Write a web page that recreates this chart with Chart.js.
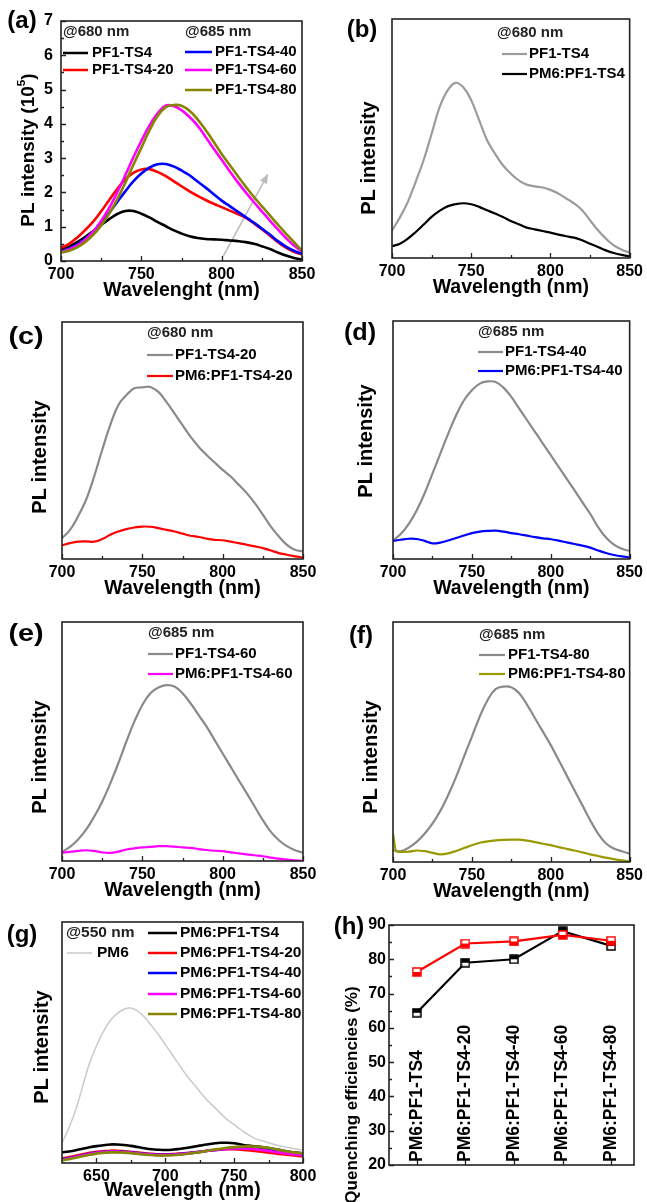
<!DOCTYPE html>
<html><head><meta charset="utf-8">
<script src="https://cdn.jsdelivr.net/npm/chart.js@4.4.1/dist/chart.umd.min.js"></script>
<style>
html,body{margin:0;padding:0;background:#fff;}
body{position:relative;width:647px;height:1202px;overflow:hidden;}
canvas{position:absolute;}
</style></head><body>
<script>
// ---------------- DATA ----------------
const wl5 = [700,705,710,715,720,725,730,735,740,745,750,755,760,765,770,775,780,785,790,795,800,805,810,815,820,825,830,835,840,845,850];
const wlF = [700,702,705,710,715,720,725,730,735,740,745,750,755,760,765,770,775,780,785,790,795,800,805,810,815,820,825,830,835,840,845,850];
const wlG = [625,630,635,640,645,650,655,660,665,670,675,680,685,690,695,700,705,710,715,720,725,730,735,740,745,750,755,760,765,770,775,780,785,790,795,800];

const neatNames  = ['PF1-TS4','PF1-TS4-20','PF1-TS4-40','PF1-TS4-60','PF1-TS4-80'];
const blendNames = ['PM6:PF1-TS4','PM6:PF1-TS4-20','PM6:PF1-TS4-40','PM6:PF1-TS4-60','PM6:PF1-TS4-80'];

// (a) PL intensity (10^5)
const aTS4   = [0.33,0.42,0.55,0.7,0.87,1.05,1.22,1.37,1.46,1.46,1.38,1.27,1.14,1.02,0.9,0.8,0.72,0.67,0.64,0.63,0.62,0.6,0.58,0.55,0.5,0.43,0.35,0.25,0.16,0.09,0.04];
const aTS4_20= [0.38,0.5,0.68,0.9,1.15,1.45,1.78,2.1,2.38,2.57,2.67,2.68,2.6,2.48,2.33,2.18,2.03,1.9,1.78,1.67,1.57,1.47,1.37,1.26,1.1,0.93,0.74,0.55,0.39,0.27,0.19];
const aTS4_40= [0.28,0.36,0.48,0.64,0.85,1.1,1.4,1.72,2.03,2.32,2.55,2.72,2.82,2.83,2.76,2.64,2.5,2.32,2.14,1.95,1.76,1.6,1.44,1.28,1.12,0.95,0.77,0.58,0.42,0.3,0.21];
const aTS4_60= [0.27,0.34,0.45,0.62,0.86,1.17,1.55,2.0,2.5,3.02,3.5,3.95,4.3,4.53,4.52,4.4,4.2,3.95,3.62,3.28,2.95,2.62,2.3,2.0,1.72,1.45,1.18,0.92,0.67,0.45,0.28];
const aTS4_80= [0.25,0.3,0.4,0.55,0.76,1.04,1.38,1.8,2.28,2.8,3.3,3.8,4.22,4.48,4.55,4.53,4.38,4.13,3.82,3.48,3.12,2.8,2.48,2.17,1.87,1.6,1.33,1.06,0.8,0.55,0.3];
const aArrowFrom = [801, 0.14];
const aArrowTo   = [829, 2.55];

// (b)-(f) arbitrary units
const bNeat  = [11.5,17,23.5,32,41,52,63,70,73.3,71.4,66,57.7,49.3,43.7,38.8,35.3,32.5,30.7,30,29.5,28.5,27,24.9,22.8,20,15.8,11.6,8.1,5.3,3.5,2.2];
const bBlend = [4.9,6,8.1,10.9,14,17.2,19.7,21.6,22.5,22.9,22.5,21.4,20,18.6,17.2,15.5,14.1,12.7,12,11.3,10.6,9.8,9.1,8.5,7.4,6,4.6,3.2,2.1,1.3,0.7];
const cNeat  = [8.8,12.3,18,25,34.8,46,56.5,64.9,69.1,72,72.4,72.6,70.5,66.3,61.4,56.5,51.6,47.4,43.9,40.7,37.6,34.8,31.3,27.8,23.6,18.7,13.7,9.5,6,3.9,3.2];
const cBlend = [5.8,6.7,7.3,7.4,7.3,8.4,10.2,11.6,12.6,13.3,13.7,13.6,13,12.3,11.6,10.7,9.8,9.3,8.6,8.1,7.9,7.3,6.7,6,5.3,4.6,3.6,2.5,1.8,1.1,0.7];
const dNeat  = [7.8,10.6,14.8,20.4,27.5,35.9,44.3,52.7,60.4,66.7,70.9,73.7,74.6,74.4,72,68.1,63.2,58.3,53.4,48.5,43.6,38.7,33.8,28.9,23.9,19,13.4,9,6,4.3,3.4];
const dBlend = [7.6,8.1,8.5,8.4,7.6,6.6,6.9,7.8,8.8,9.9,10.9,11.5,11.8,11.9,11.5,10.9,10.4,9.8,9.2,8.7,8.3,7.7,7,6.3,5.6,4.8,3.6,2.5,1.7,1.1,0.7];
const eNeat  = [3.8,5.9,9,13.1,18.5,24.8,32.4,40.8,49.9,58.3,65.3,70.2,72.6,73.6,73,70.2,66,61.1,56.2,50.6,45,39.4,33.8,28.3,22.7,17.1,12.2,8.7,6.2,4.5,3.5];
const eBlend = [3.5,3.8,4.2,4.5,4.2,3.6,3.4,3.9,4.8,5.3,5.7,5.9,6.2,6.2,6,5.7,5.5,5,4.6,4.3,4.1,3.6,3.2,2.8,2.4,2,1.4,1,0.6,0.3,0];
const fNeat  = [4.9,4.5,6,8.4,11.8,16,21.3,27.9,35.5,43.9,52.2,60.6,67.5,72,73.1,72.8,70.3,65.5,59.9,54.3,48.7,42.5,36.2,29.9,23.7,17.4,11.8,7.7,5.6,4.5,3.5];
const fBlend = [11.8,4.5,4.2,4.3,4.8,4.5,3.8,3.2,3.6,4.6,5.8,7,8,8.6,9,9.2,9.3,9.3,8.9,8.3,7.6,7,6.2,5.5,4.8,4,3.2,2.5,1.8,1.2,0.7,0.3];

// (g) excitation at 550 nm
const gPM6   = [8.3,14.5,22.1,31.8,41.5,48.5,54.5,59,62,63.8,64.3,63,60.5,57,53.3,49.1,45,40.8,36.7,33.2,29.7,26.3,23.5,20.7,18,15.9,13.8,11.8,10.2,9.2,8.4,7.6,6.9,6.3,5.8,5.4];
const gTS4   = [4.4,4.8,5.3,5.9,6.5,7.0,7.4,7.7,7.7,7.5,7.1,6.6,6.1,5.7,5.5,5.4,5.5,5.8,6.2,6.7,7.2,7.7,8.1,8.4,8.4,8.2,7.7,7.2,6.9,6.6,6.2,5.7,5.2,4.7,4.3,4.0];
const gTS4_20= [1.9,2.4,3.0,3.6,4.2,4.6,4.9,5.1,5.1,4.9,4.6,4.3,4.0,3.8,3.6,3.6,3.7,3.9,4.1,4.4,4.7,5.1,5.4,5.6,5.7,5.7,5.5,5.3,5.0,4.7,4.3,4.0,3.6,3.3,3.0,2.8];
const gTS4_40= [1.6,2.0,2.6,3.2,3.8,4.3,4.6,4.8,4.8,4.6,4.4,4.1,3.8,3.6,3.4,3.4,3.5,3.7,4.0,4.3,4.6,5.0,5.3,5.6,5.9,6.1,6.2,6.2,6.0,5.7,5.3,4.9,4.4,4.0,3.6,3.3];
const gTS4_60= [1.4,1.9,2.5,3.1,3.7,4.2,4.5,4.7,4.7,4.5,4.3,4.0,3.7,3.5,3.3,3.3,3.4,3.6,3.9,4.2,4.6,5.0,5.3,5.6,5.8,6.0,6.0,5.9,5.7,5.4,5.0,4.6,4.2,3.8,3.5,3.2];
const gTS4_80= [1.1,1.6,2.2,2.8,3.4,3.9,4.2,4.4,4.4,4.3,4.1,3.8,3.5,3.3,3.1,3.1,3.2,3.4,3.7,4.1,4.5,5.0,5.5,5.9,6.3,6.6,6.8,6.9,6.8,6.6,6.2,5.7,5.2,4.7,4.3,4.0];

// (h) quenching efficiencies (%)
const hIndex = [1,2,3,4,5];
const hBlack = [64.4,79.0,80.0,88.2,83.9];
const hRed   = [76.3,84.6,85.2,87.1,85.4];

// tick values
const xTicks700 = [700,750,800,850];
const xMinor700 = [725,775,825];
const xTicksG   = [650,700,750,800];
const xMinorG   = [675,725,775];
const yTicksA   = [0,1,2,3,4,5,6,7];
const yMinorA   = [0.5,1.5,2.5,3.5,4.5,5.5,6.5];
const yTicksH   = [20,30,40,50,60,70,80,90];
const yMinorH   = [25,35,45,55,65,75,85];

// ---------------- STYLE ----------------
const FONT = '"Liberation Sans", Arial, Helvetica, sans-serif';
const bf = s => 'bold ' + s + 'px ' + FONT;
const COL = {black:'#000000', red:'#ff0000', blue:'#0000ff', magenta:'#ff00ff', olive:'#868600', olive2:'#9a9a00', gray:'#8a8a8a', grayB:'#9c9c9c', light:'#cacaca'};

function halfSquare(color, fillTop){
  const s = 10, c = document.createElement('canvas'); c.width = s; c.height = s;
  const g = c.getContext('2d');
  g.fillStyle = '#fff'; g.fillRect(1,1,s-2,s-2);
  g.fillStyle = color;
  if (fillTop) g.fillRect(1,1,s-2,(s-2)/2); else g.fillRect(1,s/2,s-2,(s-2)/2);
  g.strokeStyle = color; g.lineWidth = 1.5; g.strokeRect(1,1,s-2,s-2);
  return c;
}

function panel(p){
  const [bx,by,bw,bh] = p.box, [L,T,R,B] = p.plot;
  const cv = document.createElement('canvas');
  cv.width = bw; cv.height = bh;
  Object.assign(cv.style,{left:bx+'px',top:by+'px',width:bw+'px',height:bh+'px'});
  document.body.appendChild(cv);
  const X = v => v - bx, Y = v => v - by;
  const tickFont = {family:FONT, weight:'bold', size:16};
  const datasets = p.series.map(s => ({
    data: s.x.map((x,i)=>({x:x, y:s.y[i]})),
    borderColor:s.color, backgroundColor:s.color, borderWidth:s.w,
    pointRadius: s.marker ? 5 : 0, pointHoverRadius: s.marker ? 5 : 0,
    pointStyle: s.marker || 'circle',
    tension: s.marker ? 0 : 0.4,
    cubicInterpolationMode: s.mono ? 'monotone' : 'default',
    fill:false
  }));
  const deco = {
    id:'deco',
    beforeDatasetsDraw(chart){
      if (!p.arrow) return;
      const ctx = chart.ctx, xs = chart.scales.x, ys = chart.scales.y;
      const x0 = xs.getPixelForValue(p.arrow[0][0]), y0 = ys.getPixelForValue(p.arrow[0][1]);
      const x1 = xs.getPixelForValue(p.arrow[1][0]), y1 = ys.getPixelForValue(p.arrow[1][1]);
      const ang = Math.atan2(y1-y0, x1-x0);
      ctx.save();
      ctx.strokeStyle = '#bdbdbd'; ctx.fillStyle = '#bdbdbd'; ctx.lineWidth = 1.6;
      ctx.beginPath(); ctx.moveTo(x0,y0);
      ctx.lineTo(x1 - 7*Math.cos(ang), y1 - 7*Math.sin(ang)); ctx.stroke();
      ctx.beginPath(); ctx.moveTo(x1,y1);
      ctx.lineTo(x1 - 10*Math.cos(ang) + 4*Math.sin(ang), y1 - 10*Math.sin(ang) - 4*Math.cos(ang));
      ctx.lineTo(x1 - 10*Math.cos(ang) - 4*Math.sin(ang), y1 - 10*Math.sin(ang) + 4*Math.cos(ang));
      ctx.closePath(); ctx.fill();
      ctx.restore();
    },
    afterDraw(chart){
      const ctx = chart.ctx, a = chart.chartArea, xs = chart.scales.x, ys = chart.scales.y;
      ctx.save();
      // tick marks (inward)
      ctx.strokeStyle = '#222'; ctx.lineWidth = 1.3;
      ctx.beginPath();
      (p.xMajor||[]).forEach(v=>{const px=Math.round(xs.getPixelForValue(v))+0.5; ctx.moveTo(px,a.bottom); ctx.lineTo(px,a.bottom-5);});
      (p.xMinor||[]).forEach(v=>{const px=Math.round(xs.getPixelForValue(v))+0.5; ctx.moveTo(px,a.bottom); ctx.lineTo(px,a.bottom-3);});
      (p.yMajor||[]).forEach(v=>{const py=Math.round(ys.getPixelForValue(v))+0.5; ctx.moveTo(a.left,py); ctx.lineTo(a.left+5,py);});
      (p.yMinor||[]).forEach(v=>{const py=Math.round(ys.getPixelForValue(v))+0.5; ctx.moveTo(a.left,py); ctx.lineTo(a.left+3,py);});
      ctx.stroke();
      // frame
      ctx.lineWidth = 1.6; ctx.strokeStyle = '#222';
      ctx.strokeRect(a.left, a.top, a.right-a.left, a.bottom-a.top);
      // panel label
      ctx.fillStyle = '#000'; ctx.textBaseline = 'middle'; ctx.textAlign = 'center';
      ctx.font = bf(24);
      ctx.save(); ctx.translate(X(p.tag[1]), Y(p.tag[2])); ctx.scale(p.tag[3]||1, 1);
      ctx.fillText(p.tag[0], 0, 0); ctx.restore();
      // x title
      if (p.xTitle){ ctx.font = bf(19.5); ctx.fillText(p.xTitle, (a.left+a.right)/2, Y(B + (p.xTitleDy||30))); }
      // y title (parts with optional superscript)
      if (p.yTitle){
        const size = p.yTitle.size;
        ctx.save(); ctx.translate(X(p.yTitle.cx), Y(p.yTitle.cy)); ctx.rotate(-Math.PI/2);
        const parts = p.yTitle.parts;
        let tot = 0;
        parts.forEach(pt=>{ ctx.font = bf(pt[1] ? size*0.62 : size); tot += ctx.measureText(pt[0]).width; });
        let x = -tot/2; ctx.textAlign = 'left';
        parts.forEach(pt=>{ ctx.font = bf(pt[1] ? size*0.62 : size);
          ctx.fillText(pt[0], x, pt[1] ? -size*0.38 : 0); x += ctx.measureText(pt[0]).width; });
        ctx.restore();
      }
      // legend
      if (p.legend){
        const lg = p.legend;
        ctx.font = bf(lg.size||15); ctx.textAlign = 'left'; ctx.textBaseline = 'middle';
        lg.headers.forEach(h=>{ ctx.fillStyle = '#222'; ctx.fillText(h[0], X(h[1]), Y(h[2])); });
        lg.rows.forEach(r=>{
          const [text,color,x0,x1,tx,y,w] = r;
          ctx.strokeStyle = color; ctx.lineWidth = w||2.5;
          ctx.beginPath(); ctx.moveTo(X(x0),Y(y)); ctx.lineTo(X(x1),Y(y)); ctx.stroke();
          ctx.fillStyle = '#000'; ctx.fillText(text, X(tx), Y(y));
        });
      }
      // rotated category labels inside plot
      if (p.cats){
        ctx.font = bf(17.5); ctx.fillStyle = '#000'; ctx.textAlign = 'left'; ctx.textBaseline = 'middle';
        p.cats.forEach((c,i)=>{
          const px = xs.getPixelForValue(p.catX[i]);
          ctx.save(); ctx.translate(px, a.bottom-3); ctx.rotate(-Math.PI/2); ctx.fillText(c,0,0); ctx.restore();
        });
      }
      ctx.restore();
    }
  };
  new Chart(cv, {
    type:'line',
    data:{datasets},
    options:{
      responsive:false, animation:false, events:[],
      layout:{autoPadding:false, padding:{left:0, right:bx+bw-R, top:T-by, bottom:0}},
      plugins:{legend:{display:false}, tooltip:{enabled:false}, title:{display:false}},
      scales:{
        x:{type:'linear', position:'bottom', min:p.xr[0], max:p.xr[1],
           grid:{display:false, drawTicks:false}, border:{display:false},
           ticks:{display:!!p.xTicks, font:tickFont, color:'#000', padding:4, maxRotation:0, minRotation:0, autoSkip:false},
           afterBuildTicks: sc => { if (p.xTicks) sc.ticks = p.xTicks.map(v=>({value:v})); },
           afterFit: sc => { sc.height = by + bh - B; }},
        y:{type:'linear', position:'left', min:p.yr[0], max:p.yr[1],
           grid:{display:false, drawTicks:false}, border:{display:false},
           ticks:{display:!!p.yTicks, font:tickFont, color:'#000', padding:p.yPad||6, autoSkip:false},
           afterBuildTicks: sc => { if (p.yTicks) sc.ticks = p.yTicks.map(v=>({value:v})); },
           afterFit: sc => { sc.width = L - bx; }}
      }
    },
    plugins:[deco]
  });
}

const PLt = (cx,cy,size) => ({cx, cy, size, parts:[['PL intensity',false]]});

// (a)
panel({
  box:[0,0,323,304], plot:[61,21,302,261], xr:[700,850], yr:[0,7],
  xTicks:xTicks700, xMajor:xTicks700, xMinor:xMinor700, yTicks:yTicksA, yMajor:yTicksA, yMinor:yMinorA, yPad:8,
  series:[
    {x:wl5, y:aTS4_80, color:COL.olive, w:2.6},
    {x:wl5, y:aTS4_60, color:COL.magenta, w:2.6},
    {x:wl5, y:aTS4_40, color:COL.blue, w:2.6},
    {x:wl5, y:aTS4_20, color:COL.red, w:2.6},
    {x:wl5, y:aTS4, color:COL.black, w:2.6}
  ],
  arrow:[aArrowFrom, aArrowTo],
  tag:['(a)',22,21], xTitle:'Wavelenght (nm)',
  yTitle:{cx:29, cy:150, size:19, parts:[['PL intensity (10',false],['5',true],[')',false]]},
  legend:{headers:[['@680 nm',63,32],['@685 nm',185,32]], rows:[
    [neatNames[0],COL.black,63,88,92,53],
    [neatNames[1],COL.red,63,88,92,70],
    [neatNames[2],COL.blue,185,212,215,52],
    [neatNames[3],COL.magenta,185,212,215,70],
    [neatNames[4],COL.olive,185,212,215,90]
  ]}
});
// (b)
panel({
  box:[323,0,324,304], plot:[392,19,634,258], xr:[700,850], yr:[0,100],
  xTicks:xTicks700, xMajor:xTicks700, xMinor:xMinor700,
  series:[
    {x:wl5, y:bBlend, color:COL.black, w:2.2},
    {x:wl5, y:bNeat, color:COL.grayB, w:2.2}
  ],
  tag:['(b)',362,30], xTitle:'Wavelength (nm)', yTitle:PLt(369,158,20),
  legend:{headers:[['@680 nm',497,33]], rows:[
    [neatNames[0],COL.grayB,502,527,529,54,2.2],
    [blendNames[0],COL.black,502,527,529,74,2.2]
  ]}
});
// (c)
panel({
  box:[0,304,323,298], plot:[62,322,303,559], xr:[700,850], yr:[0,100],
  xTicks:xTicks700, xMajor:xTicks700, xMinor:xMinor700,
  series:[
    {x:wl5, y:cBlend, color:COL.red, w:2.2},
    {x:wl5, y:cNeat, color:COL.gray, w:2.2}
  ],
  tag:['(c)',26,337,1.2], xTitle:'Wavelength (nm)', yTitle:PLt(40,457,20),
  legend:{headers:[['@680 nm',147,333]], rows:[
    [neatNames[1],COL.gray,147,173,175,355,2.2],
    [blendNames[1],COL.red,147,173,175,376,2.2]
  ]}
});
// (d)
panel({
  box:[323,304,324,298], plot:[393,321,634,559], xr:[700,850], yr:[0,100],
  xTicks:xTicks700, xMajor:xTicks700, xMinor:xMinor700,
  series:[
    {x:wl5, y:dBlend, color:COL.blue, w:2.2},
    {x:wl5, y:dNeat, color:COL.gray, w:2.2}
  ],
  tag:['(d)',360,333,1.05], xTitle:'Wavelength (nm)', yTitle:PLt(366,441,20),
  legend:{headers:[['@685 nm',478,332]], rows:[
    [neatNames[2],COL.gray,478,503,505,352,2.2],
    [blendNames[2],COL.blue,478,503,505,371,2.2]
  ]}
});
// (e)
panel({
  box:[0,602,323,304], plot:[62,622,303,861], xr:[700,850], yr:[0,100],
  xTicks:xTicks700, xMajor:xTicks700, xMinor:xMinor700,
  series:[
    {x:wl5, y:eBlend, color:COL.magenta, w:2.2},
    {x:wl5, y:eNeat, color:COL.gray, w:2.2}
  ],
  tag:['(e)',26,634,1.2], xTitle:'Wavelength (nm)', yTitle:PLt(40,757,20),
  legend:{headers:[['@685 nm',148,633]], rows:[
    [neatNames[3],COL.gray,148,173,175,654,2.2],
    [blendNames[3],COL.magenta,148,173,175,674,2.2]
  ]}
});
// (f)
panel({
  box:[323,602,324,304], plot:[393,622,635,862], xr:[700,850], yr:[0,100],
  xTicks:xTicks700, xMajor:xTicks700, xMinor:xMinor700,
  series:[
    {x:wlF, y:fBlend, color:COL.olive2, w:2.2, mono:true},
    {x:wl5, y:fNeat, color:COL.gray, w:2.2}
  ],
  tag:['(f)',361,636], xTitle:'Wavelength (nm)', yTitle:PLt(371,757,20),
  legend:{headers:[['@685 nm',479,635]], rows:[
    [neatNames[4],COL.gray,479,505,508,655,2.2],
    [blendNames[4],COL.olive2,479,505,508,674,2.2]
  ]}
});
// (g)
panel({
  box:[0,906,323,296], plot:[62,922,303,1163], xr:[625,800], yr:[0,100],
  xTicks:xTicksG, xMajor:xTicksG, xMinor:xMinorG,
  series:[
    {x:wlG, y:gTS4_80, color:COL.olive, w:2.6},
    {x:wlG, y:gTS4_60, color:COL.magenta, w:2.6},
    {x:wlG, y:gTS4_40, color:COL.blue, w:2.6},
    {x:wlG, y:gTS4_20, color:COL.red, w:2.6},
    {x:wlG, y:gTS4, color:COL.black, w:2.6},
    {x:wlG, y:gPM6, color:COL.light, w:1.5}
  ],
  tag:['(g)',22,935], xTitle:'Wavelength (nm)', xTitleDy:28, yTitle:PLt(42,1047,20),
  legend:{size:15.5, headers:[['@550 nm',66,933]], rows:[
    ['PM6',COL.light,67,92,97,953,1.5],
    [blendNames[0],COL.black,148,177,180,933],
    [blendNames[1],COL.red,148,177,180,953],
    [blendNames[2],COL.blue,148,177,180,973],
    [blendNames[3],COL.magenta,148,177,180,994],
    [blendNames[4],COL.olive,148,177,180,1014]
  ]}
});
// (h)
panel({
  box:[323,906,324,296], plot:[389,925,634,1165], xr:[0.43,5.47], yr:[20,90],
  yTicks:yTicksH, yMajor:yTicksH, yMinor:yMinorH, yPad:3, xMajor:hIndex,
  series:[
    {x:hIndex, y:hRed, color:COL.red, w:2.2, marker:halfSquare(COL.red,false)},
    {x:hIndex, y:hBlack, color:COL.black, w:2.2, marker:halfSquare(COL.black,true)}
  ],
  tag:['(h)',349,927],
  yTitle:{cx:352, cy:1095, size:17, parts:[['Quenching efficiencies (%)',false]]},
  cats:blendNames, catX:hIndex
});
</script>
</body></html>
